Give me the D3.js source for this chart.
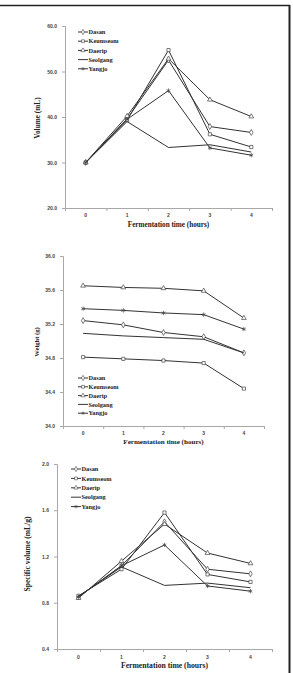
<!DOCTYPE html>
<html>
<head>
<meta charset="utf-8">
<script src="https://cdn.jsdelivr.net/npm/d3@7"></script>
<style>
  body { margin: 0; background: #fff; }
  svg { display: block; font-family: "Liberation Serif", "Times New Roman", serif; font-weight: bold; }
  .tick text { fill: #444; }
  .domain, .tick line { stroke: #a8a8a8; }
</style>
</head>
<body>
<div id="wrapper"></div>
<script>
// categories and series
const hours = ["0", "1", "2", "3", "4"]
const cultivars = ["Dasan", "Keumseom", "Daerip", "Seolgang", "Yangjo"]

// volume (mL)
const volumeDasan    = [30.0, 39.6, 52.5, 37.9, 36.6]
const volumeKeumseom = [30.0, 39.3, 54.7, 36.2, 33.4]
const volumeDaerip   = [30.0, 40.2, 52.8, 43.8, 40.1]
const volumeSeolgang = [30.0, 39.0, 33.3, 33.9, 32.3]
const volumeYangjo   = [30.0, 39.5, 45.8, 33.2, 31.6]
const volumeTicks = [20, 30, 40, 50, 60]

// weight (g)
const weightDasan    = [35.24, 35.19, 35.10, 35.05, 34.86]
const weightKeumseom = [34.81, 34.79, 34.77, 34.74, 34.44]
const weightDaerip   = [35.65, 35.63, 35.62, 35.59, 35.27]
const weightSeolgang = [35.09, 35.06, 35.04, 35.02, 34.86]
const weightYangjo   = [35.38, 35.36, 35.33, 35.31, 35.14]
const weightTicks = [34.0, 34.4, 34.8, 35.2, 35.6, 36.0]

// specific volume (mL/g)
const specDasan    = [0.85, 1.12, 1.50, 1.09, 1.05]
const specKeumseom = [0.86, 1.09, 1.58, 1.045, 0.98]
const specDaerip   = [0.84, 1.16, 1.48, 1.23, 1.14]
const specSeolgang = [0.855, 1.11, 0.95, 0.97, 0.93]
const specYangjo   = [0.85, 1.12, 1.30, 0.945, 0.90]
const specTicks = [0.4, 0.8, 1.2, 1.6, 2.0]

const symbols = [d3.symbolDiamond, d3.symbolSquare, d3.symbolTriangle, null, d3.symbolAsterisk]

const width = 293
const height = 673

const wrapper = d3.select("#wrapper")
  .append("svg")
    .attr("width", width)
    .attr("height", height)

// frame edges
wrapper.append("line")
    .attr("x1", 0).attr("x2", 290)
    .attr("y1", 5.5).attr("y2", 5.5)
    .attr("stroke", "#222").attr("stroke-width", 1.5)
wrapper.append("line")
    .attr("x1", 289.5).attr("x2", 289.5)
    .attr("y1", 5).attr("y2", height)
    .attr("stroke", "#222").attr("stroke-width", 2)

function drawPanel(p) {
  const bounds = wrapper.append("g")
    .attr("transform", `translate(${p.left}, ${p.top})`)
  const w = p.right - p.left
  const h = p.bottom - p.top

  const xScale = d3.scaleBand().domain(hours).range([0, w])
  const xEdges = d3.scaleLinear().domain([0, hours.length]).range([0, w])
  const yScale = d3.scaleLinear().domain(d3.extent(p.ticks)).range([h, 0])

  // axes
  const yAxis = bounds.append("g")
    .call(d3.axisLeft(yScale).tickValues(p.ticks).tickFormat(d3.format(".1f")).tickSize(3).tickPadding(5))
  yAxis.selectAll("text").style("font-size", "5px")

  const xAxis = bounds.append("g")
      .attr("transform", `translate(0, ${h})`)
  xAxis.append("g")
    .call(d3.axisBottom(xEdges).ticks(hours.length).tickFormat("").tickSize(3))
  xAxis.append("g")
    .call(d3.axisBottom(xScale).tickSize(0).tickPadding(p.xPad))
    .call(g => g.select(".domain").remove())
    .selectAll("text").style("font-size", "5px")

  bounds.append("text")
      .attr("x", w / 2)
      .attr("y", h + p.titleY)
      .attr("text-anchor", "middle")
      .style("font-size", p.titleSize + "px")
      .attr("fill", "#222")
      .text("Fermentation time (hours)")

  bounds.append("text")
      .attr("transform", `translate(${p.yTitleX}, ${p.yTitleY}) rotate(-90)`)
      .attr("text-anchor", "middle")
      .style("font-size", p.yTitleSize + "px")
      .attr("fill", "#222")
      .text(p.yTitle)

  // series
  const line = d3.line()
    .x((d, i) => xScale(hours[i]) + xScale.bandwidth() / 2)
    .y(d => yScale(d))

  p.series.forEach((values, s) => {
    bounds.append("path")
        .attr("d", line(values))
        .attr("fill", "none")
        .attr("stroke", "#333")
        .attr("stroke-width", 1)
    if (!symbols[s]) return
    bounds.selectAll(null)
      .data(values)
      .join("path")
        .attr("transform", (d, i) => `translate(${xScale(hours[i]) + xScale.bandwidth() / 2}, ${yScale(d)})`)
        .attr("d", d3.symbol(symbols[s], s == 4 ? 13 : 10))
        .attr("fill", s == 4 ? "none" : "#fff")
        .attr("stroke", "#444")
        .attr("stroke-width", 0.7)
  })

  // legend
  const legend = bounds.append("g")
      .attr("transform", `translate(${p.legendX}, ${p.legendY})`)
  cultivars.forEach((name, s) => {
    const row = legend.append("g").attr("transform", `translate(0, ${s * p.legendStep})`)
    row.append("line")
        .attr("x1", 0).attr("x2", 10)
        .attr("stroke", "#333")
    if (symbols[s]) {
      row.append("path")
          .attr("transform", "translate(5, 0)")
          .attr("d", d3.symbol(symbols[s], 8))
          .attr("fill", s == 4 ? "none" : "#fff")
          .attr("stroke", "#444")
          .attr("stroke-width", 0.6)
    }
    row.append("text")
        .attr("x", 10.5)
        .attr("dy", "0.35em")
        .style("font-size", "6.3px")
        .attr("fill", "#222")
        .text(name)
  })
}

drawPanel({
  left: 65, right: 272, top: 26, bottom: 208,
  ticks: volumeTicks,
  series: [volumeDasan, volumeKeumseom, volumeDaerip, volumeSeolgang, volumeYangjo],
  yTitle: "Volume (mL)", yTitleX: -25, yTitleY: 92, yTitleSize: 7.3,
  titleY: 19, titleSize: 7.2, xPad: 5,
  legendX: 13, legendY: 6, legendStep: 9.2,
})

drawPanel({
  left: 63, right: 264, top: 256, bottom: 426,
  ticks: weightTicks,
  series: [weightDasan, weightKeumseom, weightDaerip, weightSeolgang, weightYangjo],
  yTitle: "Weight (g)", yTitleX: -24, yTitleY: 86, yTitleSize: 6.6,
  titleY: 18, titleSize: 7.1, xPad: 5,
  legendX: 15, legendY: 122, legendStep: 8.8,
})

drawPanel({
  left: 57, right: 272, top: 464, bottom: 649,
  ticks: specTicks,
  series: [specDasan, specKeumseom, specDaerip, specSeolgang, specYangjo],
  yTitle: "Specific volume (mL/g)", yTitleX: -27, yTitleY: 90, yTitleSize: 7.6,
  titleY: 19, titleSize: 7.7, xPad: 6,
  legendX: 14, legendY: 5, legendStep: 9.4,
})
</script>
</body>
</html>
